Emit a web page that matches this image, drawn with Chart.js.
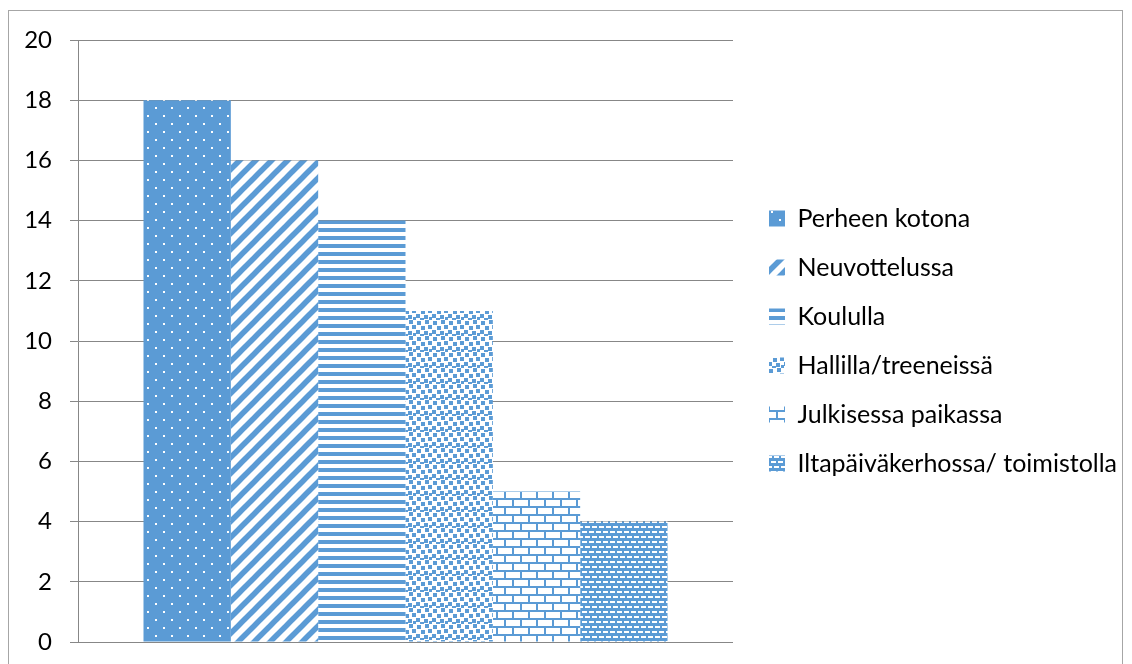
<!DOCTYPE html>
<html>
<head>
<meta charset="utf-8">
<script src="https://cdn.jsdelivr.net/npm/chart.js@4.4.1/dist/chart.umd.min.js"></script>
<style>
    html, body { margin: 0; padding: 0; background: #fff; overflow: hidden; }
    #frame { position: absolute; left: 8px; top: 10px; width: 1113px; height: 700px; border: 1px solid #a6a6a6; }
    #chart { position: absolute; left: 0; top: 0; }
</style>
</head>
<body>
<div id="frame"></div>
<canvas id="chart" width="1132" height="664"></canvas>
<script>
const categoryLabels = [""];
const seriesNames = [
    "Perheen kotona",
    "Neuvottelussa",
    "Koululla",
    "Hallilla/treeneissä",
    "Julkisessa paikassa",
    "Iltapäiväkerhossa/ toimistolla"
];
const seriesValues = [18, 16, 14, 11, 5, 4];
const yMin = 0;
const yMax = 20;
const yStep = 2;

const BLUE = "#5b9bd5";
const GRID = "#878787";
const FONT = "Lato";
const TICK_SIZE = 24;
const LEGEND_SIZE = 25;

// small repeating tiles that mimic the Excel pattern fills
function makePattern(w, h, bg, draw) {
    const c = document.createElement("canvas");
    c.width = w;
    c.height = h;
    const g = c.getContext("2d");
    g.fillStyle = bg;
    g.fillRect(0, 0, w, h);
    draw(g);
    return g.createPattern(c, "repeat");
}

const patterns = [
    makePattern(16, 16, BLUE, g => {
        g.fillStyle = "#fff";
        g.fillRect(3, 3, 2, 2);
        g.fillRect(11, 11, 2, 2);
    }),
    makePattern(16, 16, "#fff", g => {
        g.strokeStyle = BLUE;
        g.lineWidth = 5.5;
        for (const c of [0, 16, 32]) {
            g.beginPath();
            g.moveTo(c + 4, -4);
            g.lineTo(c - 20, 20);
            g.stroke();
        }
    }),
    makePattern(8, 8, "#fff", g => {
        g.fillStyle = BLUE;
        g.fillRect(0, 4, 8, 4);
    }),
    makePattern(16, 16, "#fff", g => {
        g.fillStyle = BLUE;
        const squares = [[1, 1], [9, 0], [5, 6], [12, 5], [0, 10], [8, 11], [4, 14], [13, 13]];
        squares.forEach(([x, y]) => g.fillRect(x, y, 4, 4));
    }),
    makePattern(16, 16, "#fff", g => {
        g.fillStyle = BLUE;
        g.fillRect(0, 2, 16, 2);
        g.fillRect(0, 10, 16, 2);
        g.fillRect(0, 4, 2, 6);
        g.fillRect(8, 12, 2, 4);
        g.fillRect(8, 0, 2, 2);
    }),
    makePattern(14, 10, BLUE, g => {
        g.fillStyle = "#fff";
        g.fillRect(1, 1, 5, 2);
        g.fillRect(8, 1, 5, 2);
        g.fillRect(4, 6, 5, 2);
        g.fillRect(11, 6, 3, 2);
        g.fillRect(0, 6, 2, 2);
    })
];

// legend placement: box column starts a bit right of the plot
const legendPadding = 24;
const legendBox = 16;
const plotRight = 733;
const legendLeft = 745;
const measure = document.createElement("canvas").getContext("2d");
measure.font = LEGEND_SIZE + "px " + FONT;
const widest = Math.max(...seriesNames.map(s => measure.measureText(s).width));
const legendWidth = legendPadding + legendBox + LEGEND_SIZE / 2 + widest + 10;
const padRight = Math.max(0, 1132 - legendLeft - legendWidth);

const ctx = document.getElementById("chart").getContext("2d");

new Chart(ctx, {
    type: "bar",
    data: {
        labels: categoryLabels,
        datasets: seriesNames.map((name, i) => ({
            label: name,
            data: [seriesValues[i]],
            backgroundColor: patterns[i],
            borderWidth: 0,
            yAxisID: "y"
        }))
    },
    options: {
        responsive: false,
        animation: false,
        layout: {
            padding: { left: 0, top: 40, right: padRight, bottom: 22 }
        },
        datasets: {
            bar: { categoryPercentage: 0.8, barPercentage: 1 }
        },
        scales: {
            x: { display: false },
            y: {
                min: yMin,
                max: yMax,
                ticks: {
                    stepSize: yStep,
                    padding: 18,
                    color: "#000",
                    font: { family: FONT, size: TICK_SIZE }
                },
                grid: { color: GRID, tickLength: 8 },
                border: { color: GRID },
                afterFit: s => {
                    s.width = 78;
                    s.paddingTop = 0;
                    s.paddingBottom = 0;
                }
            },
            y2: {
                position: "right",
                grid: { display: false },
                border: { display: false },
                ticks: { display: false },
                afterFit: s => { s.width = legendLeft - plotRight; }
            }
        },
        plugins: {
            legend: {
                position: "right",
                align: "center",
                maxWidth: 600,
                labels: {
                    boxWidth: legendBox,
                    boxHeight: legendBox,
                    padding: legendPadding,
                    color: "#000",
                    font: { family: FONT, size: LEGEND_SIZE }
                }
            },
            tooltip: { enabled: false }
        }
    }
});
</script>
</body>
</html>
